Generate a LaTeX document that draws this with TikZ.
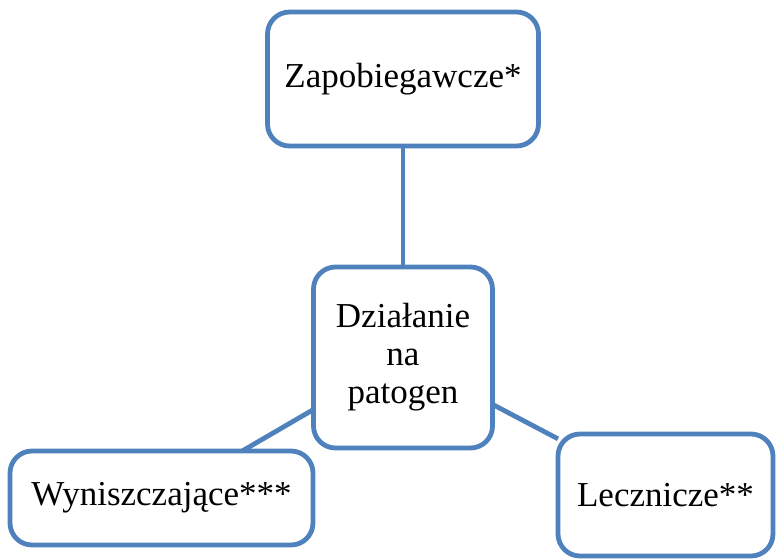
\documentclass[tikz,border=0pt]{standalone}
\usepackage{fontspec}
\setmainfont{Liberation Serif}
\usetikzlibrary{backgrounds}
\definecolor{boxblue}{RGB}{79,129,189}
\begin{document}
\begin{tikzpicture}[x=1pt,y=-1pt,
  box/.style={draw=boxblue, line width=4.8pt, fill=white, rounded corners=22pt,
    inner sep=0pt, outer sep=0pt, align=center, font=\fontsize{35}{38}\selectfont},
  link/.style={draw=boxblue, line width=4.8pt}]
\useasboundingbox (0,0) rectangle (776,558);
\node[box, minimum width=271pt, minimum height=134pt] (top) at (403,79) {Zapobiegawcze*};
\node[box, minimum width=179pt, minimum height=181pt] (mid) at (403,357.5) {Działanie\\na\\patogen};
\node[box, minimum width=303pt, minimum height=94pt] (left) at (161.5,498) {Wyniszczające***};
\node[box, minimum width=215pt, minimum height=122pt] (right) at (665.5,495) {Lecznicze**};
\begin{scope}[on background layer]
\draw[link] (top) -- (mid);
\draw[link] (mid) -- (left);
\draw[link] (mid) -- (right);
\end{scope}
\end{tikzpicture}
\end{document}
